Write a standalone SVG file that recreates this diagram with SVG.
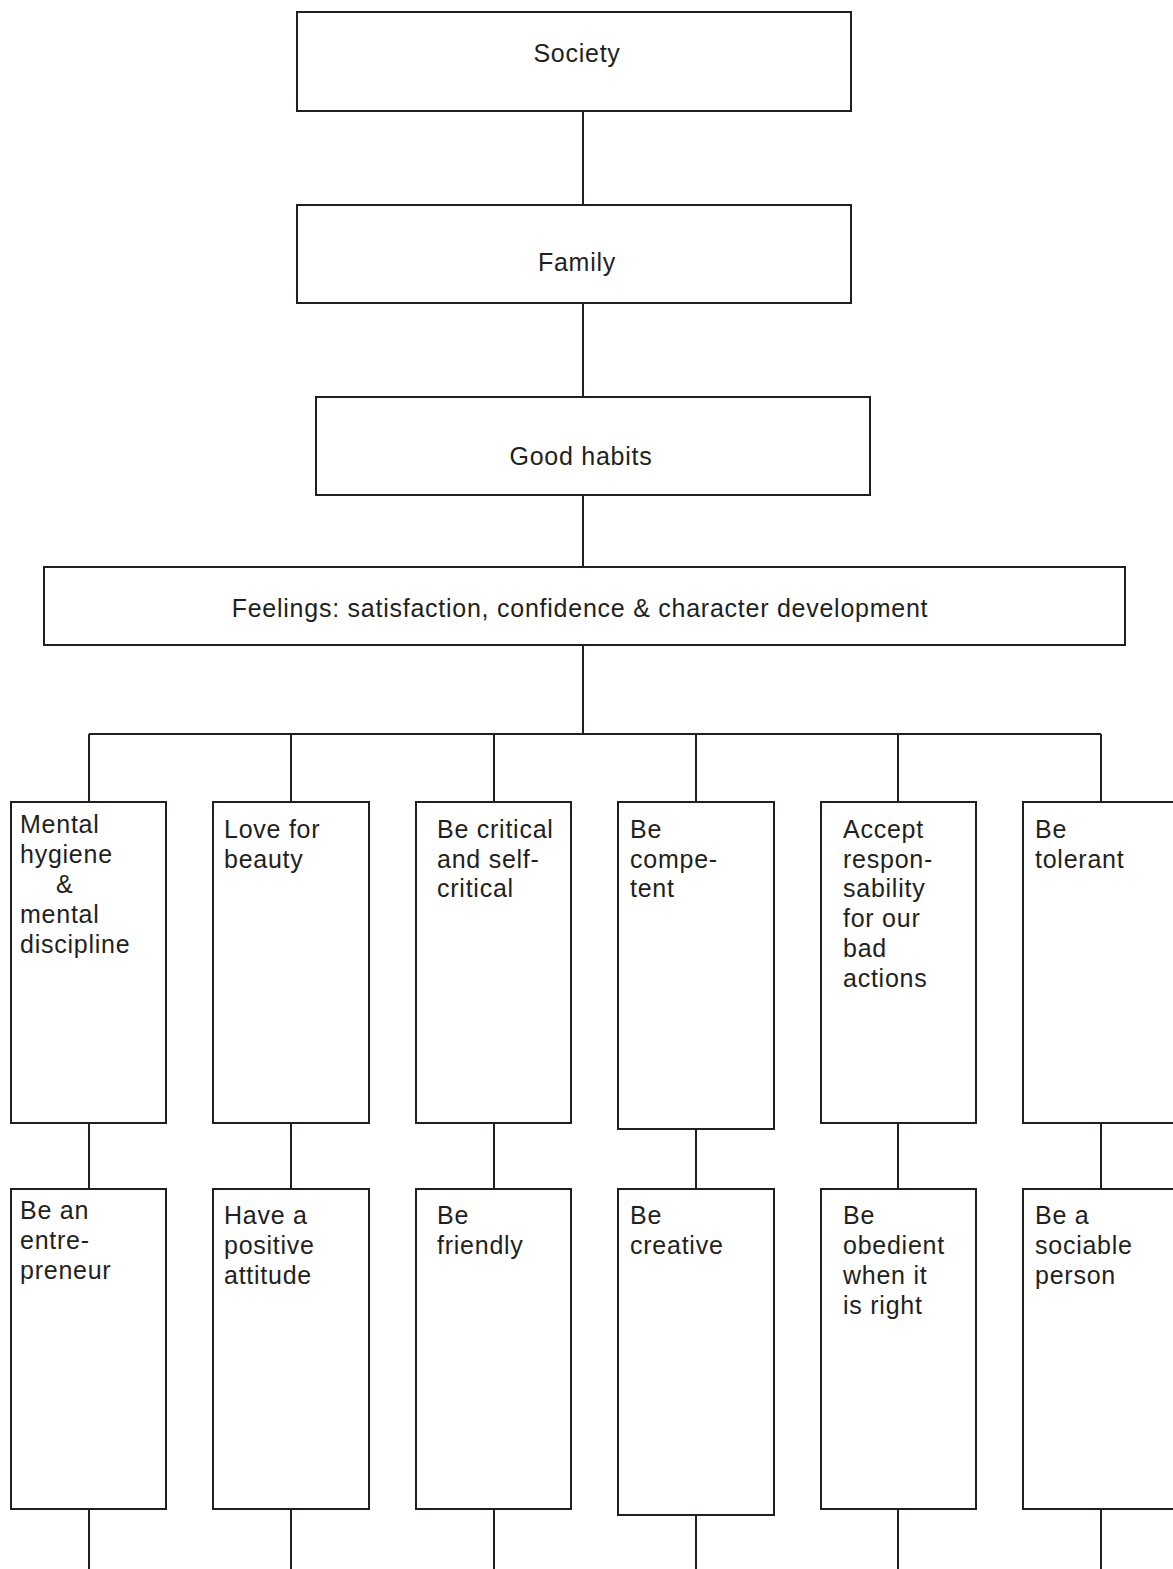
<svg xmlns="http://www.w3.org/2000/svg" width="1173" height="1569" viewBox="0 0 1173 1569">
<style>
.box{fill:#fff;stroke:#231f20;stroke-width:2}
.c{fill:none;stroke:#231f20;stroke-width:2}
text{font-family:"Liberation Sans",Arial,sans-serif;font-size:25px;letter-spacing:0.75px;fill:#231f20}
.m{text-anchor:middle}
</style>
<rect width="1173" height="1569" fill="#fff"/>
<g id="connectors">
<path class="c" d="M583 111V205M583 303V397M583 495V567M583 645V734M89 734H1101M89 734V802M291 734V802M494 734V802M696 734V802M898 734V802M1101 734V802"/>
<path class="c" d="M89 1123V1189M291 1123V1189M494 1123V1189M696 1129V1189M898 1123V1189M1101 1123V1189"/>
<path class="c" d="M89 1509V1569M291 1509V1569M494 1509V1569M696 1515V1569M898 1509V1569M1101 1509V1569"/>
</g>
<g id="society"><rect class="box" x="297" y="12" width="554" height="99"/><text class="m" x="577" y="62">Society</text></g>
<g id="family"><rect class="box" x="297" y="205" width="554" height="98"/><text class="m" x="577" y="271">Family</text></g>
<g id="good-habits"><rect class="box" x="316" y="397" width="554" height="98"/><text class="m" x="581" y="465">Good habits</text></g>
<g id="feelings"><rect class="box" x="44" y="567" width="1081" height="78"/><text class="m" x="580" y="617">Feelings: satisfaction, confidence &amp; character development</text></g>

<g id="mental-hygiene"><rect class="box" x="11" y="802" width="155" height="321"/>
<text x="20" y="833">Mental</text><text x="20" y="863">hygiene</text><text x="56" y="893">&amp;</text><text x="20" y="923">mental</text><text x="20" y="953">discipline</text></g>
<g id="love-beauty"><rect class="box" x="213" y="802" width="156" height="321"/>
<text x="224" y="838">Love for</text><text x="224" y="868">beauty</text></g>
<g id="be-critical"><rect class="box" x="416" y="802" width="155" height="321"/>
<text x="437" y="838">Be critical</text><text x="437" y="868">and self-</text><text x="437" y="897">critical</text></g>
<g id="be-competent"><rect class="box" x="618" y="802" width="156" height="327"/>
<text x="630" y="838">Be</text><text x="630" y="868">compe-</text><text x="630" y="897">tent</text></g>
<g id="accept-resp"><rect class="box" x="821" y="802" width="155" height="321"/>
<text x="843" y="838">Accept</text><text x="843" y="868">respon-</text><text x="843" y="897">sability</text><text x="843" y="927">for our</text><text x="843" y="957">bad</text><text x="843" y="987">actions</text></g>
<g id="be-tolerant"><rect class="box" x="1023" y="802" width="160" height="321"/>
<text x="1035" y="838">Be</text><text x="1035" y="868">tolerant</text></g>

<g id="entrepreneur"><rect class="box" x="11" y="1189" width="155" height="320"/>
<text x="20" y="1219">Be an</text><text x="20" y="1249">entre-</text><text x="20" y="1279">preneur</text></g>
<g id="positive"><rect class="box" x="213" y="1189" width="156" height="320"/>
<text x="224" y="1224">Have a</text><text x="224" y="1254">positive</text><text x="224" y="1284">attitude</text></g>
<g id="friendly"><rect class="box" x="416" y="1189" width="155" height="320"/>
<text x="437" y="1224">Be</text><text x="437" y="1254">friendly</text></g>
<g id="creative"><rect class="box" x="618" y="1189" width="156" height="326"/>
<text x="630" y="1224">Be</text><text x="630" y="1254">creative</text></g>
<g id="obedient"><rect class="box" x="821" y="1189" width="155" height="320"/>
<text x="843" y="1224">Be</text><text x="843" y="1254">obedient</text><text x="843" y="1284">when it</text><text x="843" y="1314">is right</text></g>
<g id="sociable"><rect class="box" x="1023" y="1189" width="160" height="320"/>
<text x="1035" y="1224">Be a</text><text x="1035" y="1254">sociable</text><text x="1035" y="1284">person</text></g>
</svg>
